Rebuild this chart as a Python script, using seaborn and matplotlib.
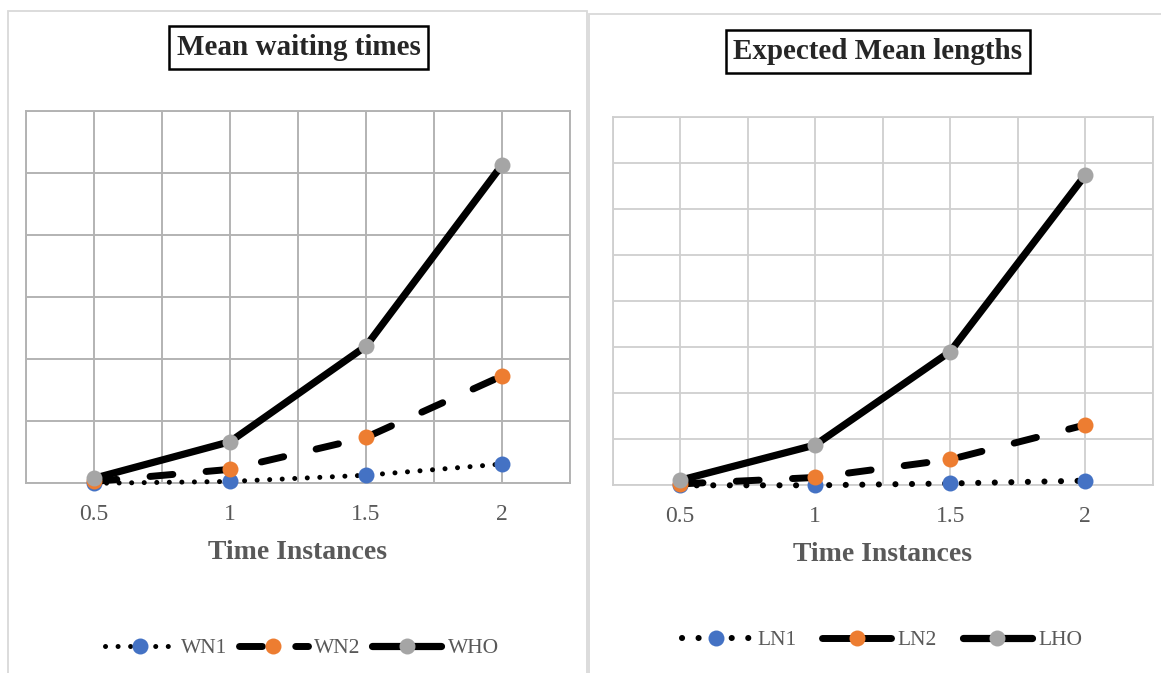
import numpy as np
import pandas as pd
import matplotlib
matplotlib.use("Agg")
import matplotlib.pyplot as plt
from matplotlib.lines import Line2D
from matplotlib.patches import Rectangle
from matplotlib.ticker import MultipleLocator, FixedLocator
import seaborn as sns

# ---- data ----
time_instances = [0.5, 1.0, 1.5, 2.0]
tick_labels = ["0.5", "1", "1.5", "2"]

wn1 = [0.00, 0.03, 0.13, 0.31]
wn2 = [0.03, 0.225, 0.74, 1.73]
who = [0.08, 0.67, 2.21, 5.13]

ln1 = [0.00, 0.00, 0.04, 0.10]
ln2 = [0.03, 0.17, 0.56, 1.31]
lho = [0.11, 0.875, 2.90, 6.73]

BLUE, ORANGE, GRAY = "#4472C4", "#ED7D31", "#A5A5A5"
TXT = "#595959"

DOT_L = ((0, (0.01, 2.5)), 3.6)
DOT_R = ((0, (0.01, 2.7)), 4.4)
DASH = ((0, (3.3, 4.8)), 5.0)
SOLID = ("-", 5.2)
MS = 11.5

sns.set_style("white")
plt.rcParams["font.family"] = ["Liberation Serif", "DejaVu Serif"]

W, H = 1161, 673
fig = plt.figure(figsize=(W / 100, H / 100), dpi=100)


def fx(px):
    return px / W


def fy(py):
    return 1 - py / H


# panel frames
fig.add_artist(Rectangle((fx(8), fy(690)), fx(587 - 8), (690 - 11) / H,
                         transform=fig.transFigure, fill=False,
                         edgecolor="#D9D9D9", linewidth=1.3))
fig.add_artist(Rectangle((fx(589), fy(690)), fx(1180 - 589), (690 - 14) / H,
                         transform=fig.transFigure, fill=False,
                         edgecolor="#D9D9D9", linewidth=1.3))

ax1 = fig.add_axes([fx(26), fy(483.3), fx(570 - 26), (483.3 - 111) / H])
ax2 = fig.add_axes([fx(612.6), fy(485.3), fx(1152.7 - 612.6), (485.3 - 116.7) / H])


def draw_series(ax, y, color, style, z):
    ls, lw = style
    sns.lineplot(x=time_instances, y=y, ax=ax, color="black", linestyle=ls,
                 linewidth=lw, marker="o", markersize=MS,
                 markerfacecolor=color, markeredgecolor=color,
                 markeredgewidth=0, dash_capstyle="round",
                 solid_capstyle="round", clip_on=False, zorder=z,
                 legend=False)


# left panel
draw_series(ax1, wn1, BLUE, DOT_L, 3)
draw_series(ax1, wn2, ORANGE, DASH, 4)
draw_series(ax1, who, GRAY, SOLID, 5)

# right panel
draw_series(ax2, ln1, BLUE, DOT_R, 3)
draw_series(ax2, ln2, ORANGE, DASH, 4)
draw_series(ax2, lho, GRAY, SOLID, 5)


def style_axis(ax, ymax, gcolor, glw):
    ax.set_xlim(0.25, 2.25)
    ax.set_ylim(0, ymax)
    ax.xaxis.set_major_locator(FixedLocator(time_instances))
    ax.set_xticklabels(tick_labels)
    ax.xaxis.set_minor_locator(MultipleLocator(0.25))
    ax.yaxis.set_major_locator(MultipleLocator(1))
    ax.set_yticklabels([])
    ax.grid(True, which="both", axis="x", color=gcolor, linewidth=glw)
    ax.grid(True, which="major", axis="y", color=gcolor, linewidth=glw)
    ax.tick_params(axis="both", which="both", length=0)
    ax.tick_params(axis="x", labelsize=17, labelcolor=TXT, pad=15)
    for s in ax.spines.values():
        s.set_color(gcolor)
        s.set_linewidth(glw)
    ax.set_axisbelow(True)
    ax.set_xlabel("Time Instances", fontsize=20, fontweight="bold",
                  color=TXT, labelpad=11)
    ax.set_ylabel("")


style_axis(ax1, 6, "#B3B3B3", 1.4)
style_axis(ax2, 8, "#CFCFCF", 1.3)

# boxed titles
box = dict(boxstyle="square,pad=0.27", facecolor="white", edgecolor="black",
           linewidth=1.8)
fig.text(fx(298.5), fy(47.5), "Mean waiting times", fontsize=21,
         fontweight="bold", ha="center", va="center", bbox=box)
fig.text(fx(878), fy(51.4), "Expected Mean lengths", fontsize=21,
         fontweight="bold", ha="center", va="center", bbox=box)


# legends
def handle(color, style):
    ls, lw = style
    return Line2D([], [], color="black", linestyle=ls, linewidth=lw,
                  marker="o", markersize=MS, markerfacecolor=color,
                  markeredgewidth=0, dash_capstyle="round",
                  solid_capstyle="round")


h_left = [handle(BLUE, DOT_L), handle(ORANGE, DASH), handle(GRAY, SOLID)]
leg1 = fig.legend(h_left, ["WN1", "WN2", "WHO"], loc="center",
                  bbox_to_anchor=(fx(302), fy(648)), ncol=3, frameon=False,
                  fontsize=15.5, handlelength=3.2, handletextpad=0.3,
                  columnspacing=0.55, numpoints=1)
for t in leg1.get_texts():
    t.set_color(TXT)

h_right = [handle(BLUE, DOT_R), handle(ORANGE, ("-", 5.0)),
           handle(GRAY, SOLID)]
leg2 = fig.legend(h_right, ["LN1", "LN2", "LHO"], loc="center",
                  bbox_to_anchor=(fx(882), fy(640)), ncol=3, frameon=False,
                  fontsize=15.5, handlelength=3.2, handletextpad=0.3,
                  columnspacing=1.2, numpoints=1)
for t in leg2.get_texts():
    t.set_color(TXT)

fig.savefig("out.png", dpi=100)
